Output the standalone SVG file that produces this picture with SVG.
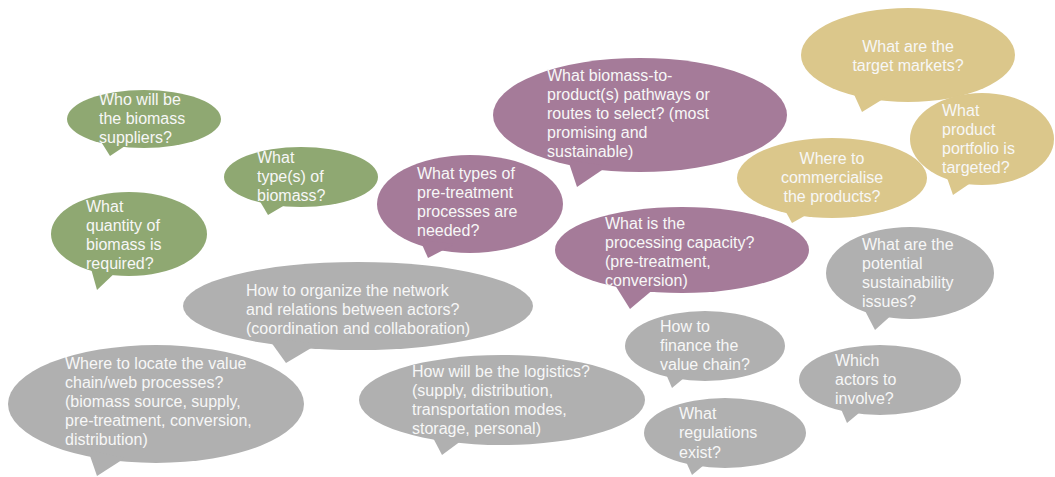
<svg xmlns="http://www.w3.org/2000/svg" width="1055" height="477" viewBox="0 0 1055 477">
<style>
.green{fill:#8fa872}
.purple{fill:#a57b99}
.gold{fill:#dbc78b}
.grey{fill:#b0b0b0}
.t{font-family:"Liberation Sans",Arial,sans-serif;font-size:16px;fill:#f7f7f7}
.c{text-anchor:middle}
</style>
<rect width="1055" height="477" fill="#ffffff"/>
<g id="connectors"/>
<g id="b_suppliers" class="green">
<ellipse cx="144" cy="119" rx="77" ry="29"/>
<polygon points="100,140 128,144 110,156"/>
<text class="t"><tspan x="99" y="105">Who will be</tspan><tspan x="99" y="124">the biomass</tspan><tspan x="99" y="143">suppliers?</tspan></text>
</g>
<g id="b_types" class="green">
<ellipse cx="301" cy="177" rx="77" ry="30"/>
<polygon points="258,198 290,202 268,215"/>
<text class="t"><tspan x="257" y="163">What</tspan><tspan x="257" y="182">type(s) of</tspan><tspan x="257" y="201">biomass?</tspan></text>
</g>
<g id="b_quantity" class="green">
<ellipse cx="129" cy="234" rx="78" ry="42"/>
<polygon points="90,265 118,270 97,290"/>
<text class="t"><tspan x="86" y="212">What</tspan><tspan x="86" y="231">quantity of</tspan><tspan x="86" y="250">biomass is</tspan><tspan x="86" y="269">required?</tspan></text>
</g>
<g id="b_pretreatment" class="purple">
<ellipse cx="470" cy="204" rx="93" ry="49"/>
<polygon points="420,240 455,244 428,258"/>
<text class="t"><tspan x="417" y="179">What types of</tspan><tspan x="417" y="198">pre-treatment</tspan><tspan x="417" y="217">processes are</tspan><tspan x="417" y="236">needed?</tspan></text>
</g>
<g id="b_pathways" class="purple">
<ellipse cx="640" cy="115" rx="147" ry="57"/>
<polygon points="568,160 608,166 577,187"/>
<text class="t"><tspan x="547" y="81">What biomass-to-</tspan><tspan x="547" y="100">product(s) pathways or</tspan><tspan x="547" y="119">routes to select? (most</tspan><tspan x="547" y="138">promising and</tspan><tspan x="547" y="157">sustainable)</tspan></text>
</g>
<g id="b_capacity" class="purple">
<ellipse cx="682" cy="250" rx="127" ry="43"/>
<polygon points="615,285 655,288 630,309"/>
<text class="t"><tspan x="605" y="229">What is the</tspan><tspan x="605" y="248">processing capacity?</tspan><tspan x="605" y="267">(pre-treatment,</tspan><tspan x="605" y="286">conversion)</tspan></text>
</g>
<g id="b_markets" class="gold">
<ellipse cx="908" cy="55" rx="107" ry="47"/>
<polygon points="852,90 888,96 862,112"/>
<text class="t c"><tspan x="908" y="52">What are the</tspan><tspan x="908" y="71">target markets?</tspan></text>
</g>
<g id="b_commercialise" class="gold">
<ellipse cx="832" cy="178" rx="95" ry="40"/>
<polygon points="782,205 815,210 792,223"/>
<text class="t c"><tspan x="832" y="164">Where to</tspan><tspan x="832" y="183">commercialise</tspan><tspan x="832" y="202">the products?</tspan></text>
</g>
<g id="b_portfolio" class="gold">
<ellipse cx="982" cy="139" rx="72" ry="46"/>
<polygon points="946,175 975,180 953,195"/>
<text class="t"><tspan x="942" y="116">What</tspan><tspan x="942" y="135">product</tspan><tspan x="942" y="154">portfolio is</tspan><tspan x="942" y="173">targeted?</tspan></text>
</g>
<g id="b_network" class="grey">
<ellipse cx="358" cy="306" rx="175" ry="44"/>
<polygon points="268,338 318,344 286,363"/>
<text class="t"><tspan x="246" y="296">How to organize the network</tspan><tspan x="246" y="315">and relations between actors?</tspan><tspan x="246" y="334">(coordination and collaboration)</tspan></text>
</g>
<g id="b_locate" class="grey">
<ellipse cx="156" cy="404" rx="148" ry="59"/>
<polygon points="88,450 125,458 97,476"/>
<text class="t"><tspan x="65" y="369">Where to locate the value</tspan><tspan x="65" y="388">chain/web processes?</tspan><tspan x="65" y="407">(biomass source, supply,</tspan><tspan x="65" y="426">pre-treatment, conversion,</tspan><tspan x="65" y="445">distribution)</tspan></text>
</g>
<g id="b_logistics" class="grey">
<ellipse cx="502" cy="400" rx="143" ry="45"/>
<polygon points="430,432 465,438 442,455"/>
<text class="t"><tspan x="412" y="377">How will be the logistics?</tspan><tspan x="412" y="396">(supply, distribution,</tspan><tspan x="412" y="415">transportation modes,</tspan><tspan x="412" y="434">storage, personal)</tspan></text>
</g>
<g id="b_sustainability" class="grey">
<ellipse cx="910" cy="273" rx="84" ry="46"/>
<polygon points="862,305 895,312 875,330"/>
<text class="t"><tspan x="862" y="250">What are the</tspan><tspan x="862" y="269">potential</tspan><tspan x="862" y="288">sustainability</tspan><tspan x="862" y="307">issues?</tspan></text>
</g>
<g id="b_finance" class="grey">
<ellipse cx="705" cy="346" rx="80" ry="35"/>
<polygon points="663,367 690,373 672,388"/>
<text class="t"><tspan x="660" y="332">How to</tspan><tspan x="660" y="351">finance the</tspan><tspan x="660" y="370">value chain?</tspan></text>
</g>
<g id="b_actors" class="grey">
<ellipse cx="880" cy="380" rx="81" ry="35"/>
<polygon points="838,402 865,408 847,423"/>
<text class="t"><tspan x="835" y="366">Which</tspan><tspan x="835" y="385">actors to</tspan><tspan x="835" y="404">involve?</tspan></text>
</g>
<g id="b_regulations" class="grey">
<ellipse cx="725" cy="433" rx="81" ry="35"/>
<polygon points="683,455 710,460 692,475"/>
<text class="t"><tspan x="679" y="419">What</tspan><tspan x="679" y="438">regulations</tspan><tspan x="679" y="458">exist?</tspan></text>
</g>
</svg>
